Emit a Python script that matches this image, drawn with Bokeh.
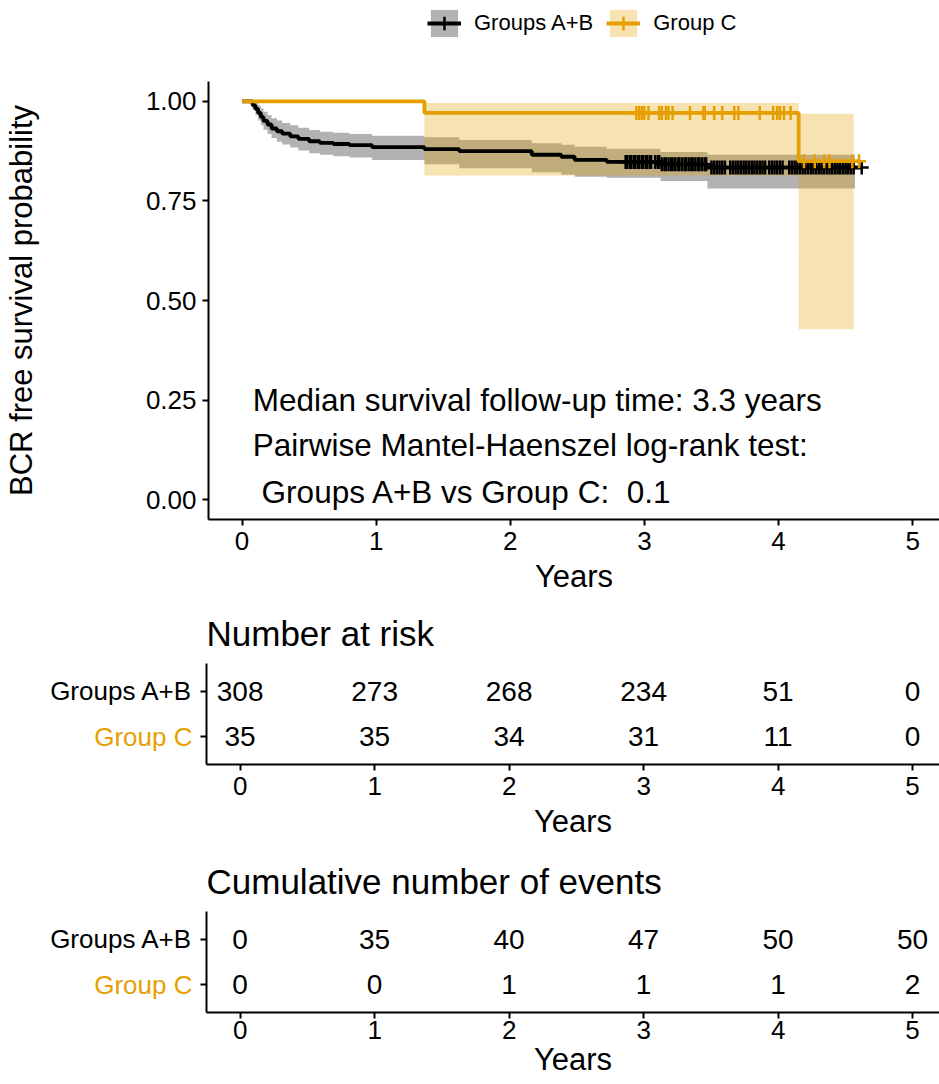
import numpy as np
from bokeh.plotting import figure
from bokeh.models import (Range1d, FactorRange, FixedTicker, Legend, LegendItem,
                          ColumnDataSource)
from bokeh.layouts import column, row
from bokeh.embed import file_html
from bokeh.resources import INLINE
from bokeh.core.properties import value

FONT = "Liberation Sans"
BLACK = "#000000"
ORANGE = "#E69F00"

# ---------------- data ----------------
groups = ["Groups A+B", "Group C"]
group_colors = [BLACK, ORANGE]

# Groups A+B Kaplan-Meier estimate
ab_time = [0.00, 0.08, 0.10, 0.12, 0.14, 0.16, 0.19, 0.22, 0.26, 0.30, 0.36, 0.42, 0.50,
           0.58, 0.68, 0.80, 0.97, 1.36, 1.62, 2.16, 2.38, 2.48, 2.72, 3.12, 3.47, 4.62]
ab_surv = [1.000, 0.990, 0.981, 0.971, 0.961, 0.951, 0.942, 0.932, 0.925, 0.919, 0.912, 0.906, 0.900,
           0.896, 0.893, 0.890, 0.885, 0.880, 0.875, 0.866, 0.861, 0.853, 0.848, 0.842, 0.834, 0.834]
ab_upper = [1.000, 1.000, 0.997, 0.990, 0.982, 0.974, 0.966, 0.958, 0.952, 0.946, 0.940, 0.934, 0.928,
            0.924, 0.921, 0.918, 0.914, 0.910, 0.903, 0.895, 0.891, 0.886, 0.881, 0.873, 0.866, 0.866]
ab_lower = [1.000, 0.979, 0.965, 0.952, 0.940, 0.929, 0.918, 0.908, 0.899, 0.892, 0.884, 0.877, 0.870,
            0.866, 0.862, 0.859, 0.853, 0.842, 0.832, 0.822, 0.816, 0.811, 0.808, 0.800, 0.781, 0.781]
ab_ci_end = 4.57
ab_censor = [2.86, 2.87, 2.89, 2.90, 2.92, 2.93, 2.95, 2.96, 2.98, 2.99, 3.01, 3.02, 3.04, 3.05,
             3.08, 3.10, 3.11, 3.13, 3.15, 3.16, 3.18, 3.20, 3.21, 3.23, 3.25, 3.26, 3.28, 3.30,
             3.31, 3.33, 3.35, 3.36, 3.38, 3.40, 3.41, 3.43, 3.45, 3.46,
             3.50, 3.52, 3.54, 3.56, 3.58, 3.60,
             3.64, 3.66, 3.68, 3.70, 3.72, 3.74, 3.76, 3.78, 3.80, 3.82,
             3.84, 3.86, 3.88, 3.90, 3.93, 3.95, 3.97, 3.99, 4.01, 4.03,
             4.08, 4.10, 4.12, 4.14, 4.16, 4.18, 4.20, 4.22, 4.24, 4.26, 4.28, 4.30, 4.32, 4.34,
             4.36, 4.38, 4.40, 4.42, 4.44, 4.46, 4.48, 4.50, 4.52, 4.54, 4.56, 4.62]

# Group C Kaplan-Meier estimate
c_time = [0.00, 1.36, 4.15, 4.60]
c_surv = [1.000, 0.971, 0.850, 0.850]
c_upper = [1.000, 0.996, 0.969, 0.969]
c_lower = [1.000, 0.814, 0.428, 0.428]
c_ci_end = 4.56
c_censor = [2.94, 2.96, 2.98, 3.00, 3.03, 3.11, 3.13, 3.16, 3.18, 3.21, 3.34, 3.44, 3.45,
            3.52, 3.58, 3.67, 3.70, 3.86, 3.96, 3.99, 4.01, 4.04, 4.09,
            4.19, 4.27, 4.34, 4.38, 4.55, 4.60]

table_times = [0, 1, 2, 3, 4, 5]
risk_ab = [308, 273, 268, 234, 51, 0]
risk_c = [35, 35, 34, 31, 11, 0]
events_ab = [0, 35, 40, 47, 50, 50]
events_c = [0, 0, 1, 1, 1, 2]

x_ticks = [0, 1, 2, 3, 4, 5]
y_ticks = [0.0, 0.25, 0.5, 0.75, 1.0]
y_tick_labels = ["0.00", "0.25", "0.50", "0.75", "1.00"]

annot_lines = ["Median survival follow-up time: 3.3 years",
               "Pairwise Mantel-Haenszel log-rank test:",
               "Groups A+B vs Group C: \u00a00.1"]
annot_x = [0.08, 0.08, 0.146]
annot_y = [0.25, 0.137, 0.02]

X_START, X_END = -0.25, 5.2
LAB_W = 192          # width of the row-label strip left of each table
FULL_W = 939
LEG_H = 45           # height of the legend strip
FRAME_L = 206        # left edge of the plotting frames


# ---------------- helpers ----------------
def step_value(times, surv, t):
    idx = np.searchsorted(np.asarray(times), np.asarray(t), side="right") - 1
    return list(np.asarray(surv)[idx])


def style_axis(ax):
    ax.axis_line_color = BLACK
    ax.axis_line_width = 2
    ax.major_tick_line_color = BLACK
    ax.major_tick_line_width = 2
    ax.major_tick_in = 0
    ax.major_tick_out = 6
    ax.minor_tick_line_color = None
    ax.major_label_text_font = FONT
    ax.major_label_text_font_size = "26px"
    ax.major_label_text_color = BLACK
    ax.axis_label_text_font = FONT
    ax.axis_label_text_font_size = "31px"
    ax.axis_label_text_font_style = "normal"
    ax.axis_label_text_color = BLACK


def clean(f):
    f.outline_line_color = None
    f.xgrid.visible = False
    f.ygrid.visible = False
    f.background_fill_color = "white"
    f.border_fill_color = "white"


def draw_km(f):
    ab_ci_time = ab_time[:-1] + [ab_ci_end]
    c_ci_time = c_time[:-1] + [c_ci_end]
    r = {}
    r["ab_band"] = f.varea_step(x=ab_ci_time, y1=ab_lower, y2=ab_upper, step_mode="after",
                                fill_color=BLACK, fill_alpha=0.3)
    r["c_band"] = f.varea_step(x=c_ci_time, y1=c_lower, y2=c_upper, step_mode="after",
                               fill_color=ORANGE, fill_alpha=0.3)
    r["ab_line"] = f.step(x=ab_time, y=ab_surv, mode="after", line_color=BLACK, line_width=3.8)
    r["ab_cens"] = f.scatter(x=ab_censor, y=step_value(ab_time, ab_surv, ab_censor),
                             marker="cross", size=14, line_color=BLACK, line_width=2.5)
    r["c_line"] = f.step(x=c_time, y=c_surv, mode="after", line_color=ORANGE, line_width=3.8)
    r["c_cens"] = f.scatter(x=c_censor, y=step_value(c_time, c_surv, c_censor),
                            marker="cross", size=14, line_color=ORANGE, line_width=2.5)
    return r


# ---------------- legend strip ----------------
leg = figure(width=FULL_W, height=LEG_H, x_range=Range1d(10, 11), y_range=Range1d(10, 11),
             output_backend="svg", toolbar_location=None, x_axis_location=None,
             y_axis_location=None, min_border_left=FRAME_L, min_border_top=0,
             min_border_right=0, min_border_bottom=0)
clean(leg)
lr = draw_km(leg)
legend = Legend(items=[LegendItem(label=groups[0], renderers=[lr["ab_band"], lr["ab_line"], lr["ab_cens"]]),
                       LegendItem(label=groups[1], renderers=[lr["c_band"], lr["c_line"], lr["c_cens"]])],
                orientation="horizontal", location=(219, 5), glyph_width=34, glyph_height=34,
                label_text_font=FONT, label_text_font_size="22px", label_text_color=BLACK,
                label_standoff=13, spacing=13, padding=0, margin=0, border_line_color=None,
                background_fill_alpha=0)
leg.add_layout(legend)

# ---------------- main KM plot ----------------
p = figure(width=FULL_W, height=600 - LEG_H, x_range=Range1d(X_START, X_END),
           y_range=Range1d(-0.05, 1.05), output_backend="svg", toolbar_location=None,
           min_border_left=FRAME_L, min_border_right=0, min_border_top=81 - LEG_H,
           min_border_bottom=81)
clean(p)
style_axis(p.xaxis[0])
style_axis(p.yaxis[0])
p.xaxis.ticker = FixedTicker(ticks=x_ticks)
p.xaxis.axis_label = "Years"
p.xaxis.major_label_standoff = 6
p.xaxis.axis_label_standoff = 6
p.yaxis.ticker = FixedTicker(ticks=y_ticks)
p.yaxis.major_label_overrides = {t: l for t, l in zip(y_ticks, y_tick_labels)}
p.yaxis.axis_label = "BCR free survival probability"
p.yaxis.major_label_standoff = 6
p.yaxis.axis_label_standoff = 104

draw_km(p)
p.text(x=annot_x, y=annot_y, text=annot_lines, text_font=value(FONT), text_font_size="31.5px",
       text_baseline="middle", text_align="left", text_color=BLACK)


# ---------------- tables ----------------
def table_block(title, vals_ab, vals_c, height, top, bottom, lab_standoff, title_standoff):
    factors = groups[::-1]
    t = figure(width=FULL_W - LAB_W, height=height, x_range=Range1d(X_START, X_END),
               y_range=FactorRange(factors=factors, range_padding=0.1), title=title,
               output_backend="svg", toolbar_location=None,
               min_border_left=FRAME_L - LAB_W, min_border_right=0, min_border_top=top,
               min_border_bottom=bottom)
    clean(t)
    style_axis(t.xaxis[0])
    style_axis(t.yaxis[0])
    t.xaxis.ticker = FixedTicker(ticks=x_ticks)
    t.xaxis.axis_label = "Years"
    t.xaxis.major_label_standoff = lab_standoff[0]
    t.xaxis.axis_label_standoff = lab_standoff[1]
    # row names are drawn (coloured) in the label strip; the axis keeps only its ticks
    t.yaxis.major_label_text_font_size = "1px"
    t.yaxis.major_label_text_color = None
    t.yaxis.major_label_standoff = 0
    t.title.text_font = FONT
    t.title.text_font_size = "35px"
    t.title.text_font_style = "normal"
    t.title.text_color = BLACK
    t.title.align = "left"
    t.title.standoff = title_standoff
    src = ColumnDataSource(dict(x=table_times + table_times,
                                y=[groups[0]] * len(table_times) + [groups[1]] * len(table_times),
                                text=[str(v) for v in vals_ab + vals_c]))
    t.text(x="x", y="y", text="text", source=src, text_font=value(FONT), text_font_size="28px",
           text_align="center", text_baseline="middle", text_color=BLACK)

    lab = figure(width=LAB_W, height=height, x_range=Range1d(0, 1),
                 y_range=FactorRange(factors=factors, range_padding=0.1),
                 output_backend="svg", toolbar_location=None,
                 x_axis_location=None, y_axis_location=None,
                 min_border_left=0, min_border_right=0, min_border_top=top,
                 min_border_bottom=bottom)
    clean(lab)
    lsrc = ColumnDataSource(dict(x=[lab.x_range.end] * len(groups), y=groups, text=groups,
                                 color=group_colors))
    lab.text(x="x", y="y", text="text", color="color", source=lsrc, text_font=value(FONT),
             text_font_size="26px", text_align="right", text_baseline="middle")
    return row(lab, t)


t1 = table_block("Number at risk", risk_ab, risk_c, 245, 63, 81, (6, 6), 22)
t2 = table_block("Cumulative number of events", events_ab, events_c, 239, 66, 72, (2, 0), 22)

layout = column(leg, p, t1, t2)
open("out.html", "w").write(file_html(layout, INLINE))
